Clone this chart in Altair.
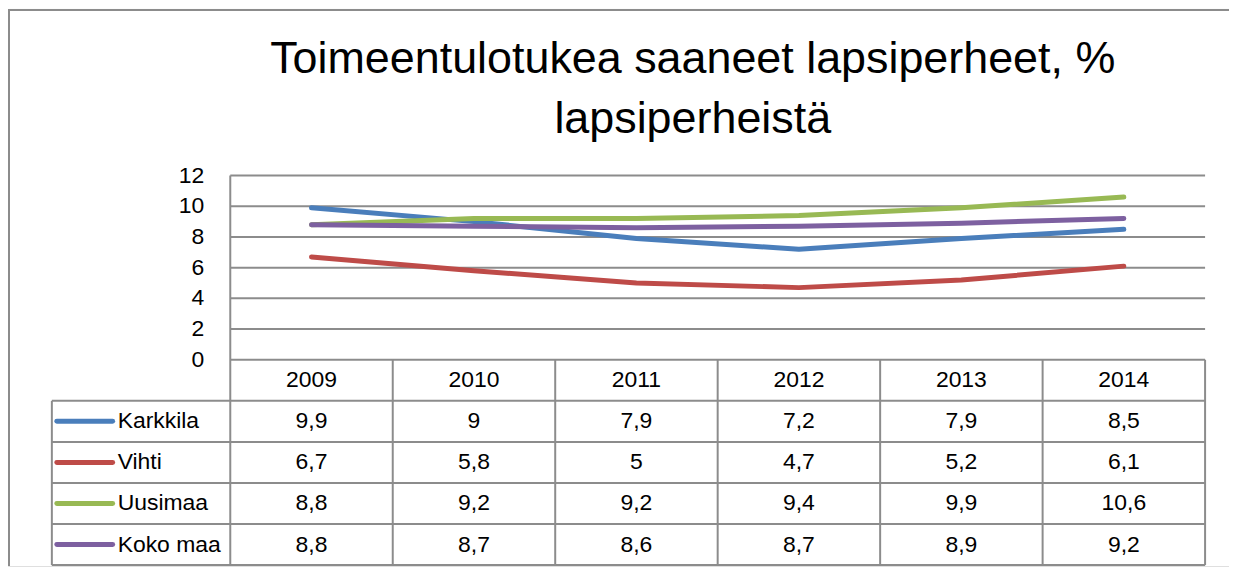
import altair as alt
import pandas as pd

# ---------------- data ----------------
title_lines = ["Toimeentulotukea saaneet lapsiperheet, %", "lapsiperheistä"]
years = ["2009", "2010", "2011", "2012", "2013", "2014"]
series = ["Karkkila", "Vihti", "Uusimaa", "Koko maa"]
karkkila = [9.9, 9.0, 7.9, 7.2, 7.9, 8.5]
vihti = [6.7, 5.8, 5.0, 4.7, 5.2, 6.1]
uusimaa = [8.8, 9.2, 9.2, 9.4, 9.9, 10.6]
koko_maa = [8.8, 8.7, 8.6, 8.7, 8.9, 9.2]
y_ticks = [0, 2, 4, 6, 8, 10, 12]
colors = ["#4a7ebb", "#be4b48", "#98b954", "#7d60a0"]

# ---------------- layout (pixels) ----------------
W, H = 1225, 559
COL_W = 163
FIRST_CENTER = 304.5
ZERO_Y = 352
PX_PER_UNIT = 15.4
ROW_H = 41.2
LEG_LEFT_PX = 44
SWATCH_L_PX, SWATCH_R_PX = 49, 105
LABEL_PX = 110
GRID = "#8c8c8c"
FONT = "Liberation Sans"
FS = 23


def xi(px):
    return (px - FIRST_CENTER) / COL_W


row = ROW_H / PX_PER_UNIT
n = len(years)
left_edge, right_edge = -0.5, n - 0.5

x_scale = alt.Scale(domain=[xi(0), xi(W)], nice=False, zero=False)
y_scale = alt.Scale(domain=[(ZERO_Y - H) / PX_PER_UNIT, ZERO_Y / PX_PER_UNIT], nice=False, zero=False)
color_scale = alt.Scale(domain=series, range=colors)

values = [karkkila, vihti, uusimaa, koko_maa]
line_df = pd.DataFrame(
    [{"i": i, "year": y, "series": s, "v": vals[i], "order": k}
     for k, (s, vals) in enumerate(zip(series, values)) for i, y in enumerate(years)]
)


def fmt(v):
    s = f"{v:g}"
    return s.replace(".", ",")


# rules of the grid and the data table
rules = []
for t in y_ticks:
    rules.append({"x": left_edge, "x2": right_edge, "y": t, "y2": t})
for k in range(1, len(series) + 2):
    rules.append({"x": xi(LEG_LEFT_PX), "x2": right_edge, "y": -k * row, "y2": -k * row})
for j in range(n + 1):
    top = y_ticks[-1] if j == 0 else 0
    rules.append({"x": left_edge + j, "x2": left_edge + j, "y": top, "y2": -(len(series) + 1) * row})
rules.append({"x": xi(LEG_LEFT_PX), "x2": xi(LEG_LEFT_PX), "y": -row, "y2": -(len(series) + 1) * row})
rules_df = pd.DataFrame(rules)

X = lambda f: alt.X(f, type="quantitative", scale=x_scale, axis=None)
Y = lambda f: alt.Y(f, type="quantitative", scale=y_scale, axis=None)

grid = alt.Chart(rules_df).mark_rule(color=GRID, strokeWidth=2).encode(
    x=X("x"), x2="x2", y=Y("y"), y2="y2"
)

border_left = alt.Chart().mark_rule(color=GRID, strokeWidth=2).encode(
    x=alt.value(1), y=alt.value(0), y2=alt.value(H)
)
border_top = alt.Chart().mark_rule(color=GRID, strokeWidth=2).encode(
    y=alt.value(1), x=alt.value(0), x2=alt.value(W)
)

lines = alt.Chart(line_df).mark_line(strokeWidth=5, strokeCap="round", strokeJoin="round").encode(
    x=X("i"), y=Y("v"),
    color=alt.Color("series:N", scale=color_scale, legend=None),
    order="order:O",
)

tick_df = pd.DataFrame({"v": y_ticks, "x": [left_edge] * len(y_ticks), "label": [str(t) for t in y_ticks]})
tick_labels = alt.Chart(tick_df).mark_text(
    align="right", baseline="middle", dx=-26, font=FONT, fontSize=FS, color="#000"
).encode(x=X("x"), y=Y("v"), text="label:N")

year_df = pd.DataFrame({"i": list(range(n)), "year": years, "y": [-row / 2] * n})
year_labels = alt.Chart(year_df).mark_text(
    align="center", baseline="middle", font=FONT, fontSize=FS, color="#000"
).encode(x=X("i"), y=Y("y"), text="year:N")

cell_df = pd.DataFrame(
    [{"i": i, "y": -(k + 1.5) * row, "label": fmt(vals[i])}
     for k, vals in enumerate(values) for i in range(n)]
)
cells = alt.Chart(cell_df).mark_text(
    align="center", baseline="middle", font=FONT, fontSize=FS, color="#000"
).encode(x=X("i"), y=Y("y"), text="label:N")

leg_df = pd.DataFrame({
    "series": series,
    "x": [xi(SWATCH_L_PX)] * len(series),
    "x2": [xi(SWATCH_R_PX)] * len(series),
    "xl": [xi(LABEL_PX)] * len(series),
    "y": [-(k + 1.5) * row for k in range(len(series))],
})
swatches = alt.Chart(leg_df).mark_rule(strokeWidth=5, strokeCap="round").encode(
    x=X("x"), x2="x2", y=Y("y"),
    color=alt.Color("series:N", scale=color_scale, legend=None),
)
leg_labels = alt.Chart(leg_df).mark_text(
    align="left", baseline="middle", font=FONT, fontSize=FS, color="#000"
).encode(x=X("xl"), y=Y("y"), text="series:N")

title = alt.Chart().mark_text(
    align="center", baseline="alphabetic", font=FONT, fontSize=45, lineHeight=60, color="#000"
).encode(x=alt.value(687), y=alt.value(64), text=alt.value(title_lines))

chart = alt.layer(
    border_left, border_top, grid, lines, tick_labels, year_labels, cells, swatches, leg_labels, title
).properties(
    width=W, height=H, padding=0,
    autosize=alt.AutoSizeParams(type="none"),
).configure_view(stroke=None).configure(background="white")

chart.save("out.html", embed_options={"renderer": "svg", "actions": False})
